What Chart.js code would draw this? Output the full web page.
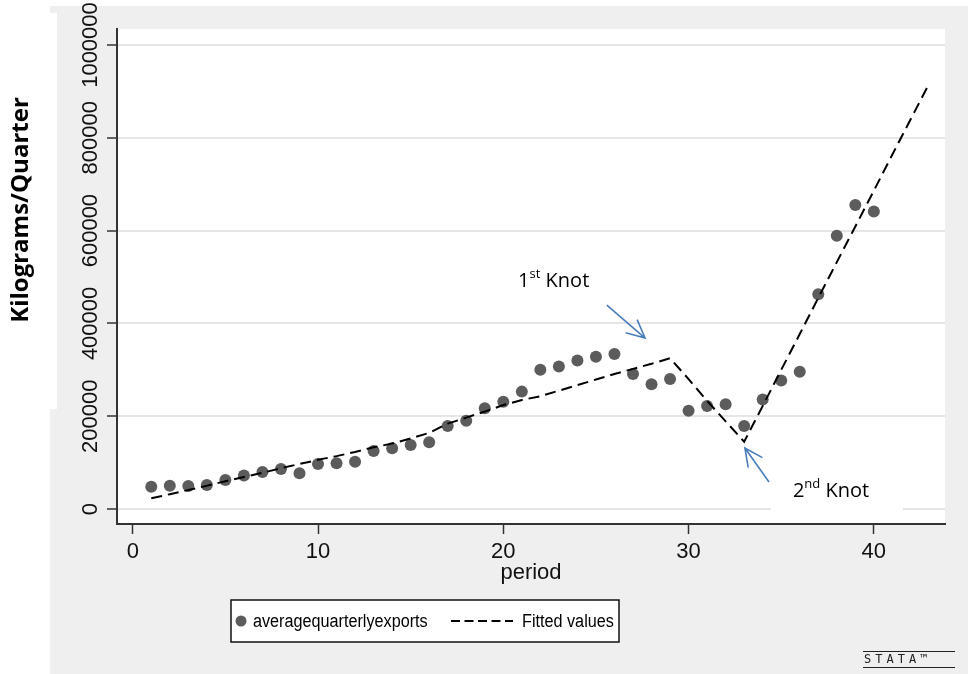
<!DOCTYPE html>
<html>
<head>
<meta charset="utf-8">
<script src="https://cdn.jsdelivr.net/npm/chart.js@4.4.1/dist/chart.umd.min.js"></script>
<style>
  html, body { margin: 0; padding: 0; background: #ffffff; }
  canvas { display: block; }
</style>
</head>
<body>
<canvas id="splineChart" width="968" height="674"></canvas>
<script>
// observed quarterly exports (kg)
const periods = [1, 2, 3, 4, 5, 6, 7, 8, 9, 10, 11, 12, 13, 14, 15, 16, 17, 18, 19, 20,
  21, 22, 23, 24, 25, 26, 27, 28, 29, 30, 31, 32, 33, 34, 35, 36, 37, 38, 39, 40];
const exportsKg = [48000, 50000, 49500, 52000, 62500, 72000, 80000, 86000, 77000, 97000,
  98500, 102000, 125000, 131000, 138000, 144000, 179000, 190000, 217000, 231000,
  253000, 300000, 307000, 320000, 328000, 334000, 291000, 269000, 280000, 212000,
  222000, 226000, 179000, 236000, 277000, 296000, 463000, 589000, 655000, 641000];

// fitted values of the spline regression (extends to period 43)
const fitPeriods = [1, 2, 3, 4, 5, 6, 7, 8, 9, 10, 11, 12, 13, 14, 15, 16, 17, 18, 19, 20,
  21, 22, 23, 24, 25, 26, 27, 28, 29, 30, 31, 32, 33, 34, 35, 36, 37, 38, 39, 40, 41, 42, 43];
const fittedKg = [23000, 32000, 41000, 50000, 60000, 69000, 78000, 88000, 97000, 106000,
  114000, 123000, 133000, 141000, 152000, 164000, 184000, 197000, 210000, 224000,
  235000, 243000, 255000, 267000, 279000, 291000, 302000, 313000, 325000, 280000,
  233000, 189000, 145000, 222000, 300000, 377000, 455000, 532000, 609000, 686000,
  764000, 841000, 918000];

const xTicks = [0, 10, 20, 30, 40];
const yTicks = [0, 200000, 400000, 600000, 800000, 1000000];

Chart.defaults.font.family = "'Liberation Sans', Arial, sans-serif";

// stata style background, legend box and the pasted notes
const decorations = {
  id: "decorations",
  beforeDraw(chart) {
    const { ctx, chartArea } = chart;
    ctx.save();
    ctx.fillStyle = "#ffffff";
    ctx.fillRect(0, 0, chart.width, chart.height);
    ctx.fillStyle = "#efefef";
    ctx.fillRect(50, 6, chart.width - 50, chart.height - 6);
    ctx.fillStyle = "#ffffff";
    ctx.fillRect(0, 13, 57, 396);
    ctx.fillRect(chartArea.left, chartArea.top, chartArea.right - chartArea.left, chartArea.bottom - chartArea.top);
    ctx.restore();
  },
  afterDraw(chart) {
    const { ctx, scales } = chart;
    const px = (v) => scales.x.getPixelForValue(v);
    const py = (v) => scales.y.getPixelForValue(v);
    ctx.save();

    // white label box behind "2nd Knot"
    ctx.fillStyle = "#ffffff";
    ctx.fillRect(px(34.45), py(84000), px(41.57) - px(34.45), py(-10800) - py(84000));

    // knot labels
    const knotLabel = (num, sup, x, y) => {
      ctx.fillStyle = "#000000";
      ctx.textBaseline = "alphabetic";
      ctx.textAlign = "left";
      ctx.font = "20px 'Open Sans'";
      ctx.fillText(num, x, y);
      let cx = x + ctx.measureText(num).width;
      ctx.font = "13px 'Open Sans'";
      ctx.fillText(sup, cx, y - 9);
      cx += ctx.measureText(sup).width;
      ctx.font = "20px 'Open Sans'";
      ctx.fillText(" Knot", cx, y);
    };
    knotLabel("1", "st", px(20.8), py(478400));
    knotLabel("2", "nd", px(35.63), py(25900));

    // blue arrows
    const arrow = (x0, y0, x1, y1) => {
      const a = Math.atan2(y1 - y0, x1 - x0);
      const len = 20, spread = 0.45;
      ctx.strokeStyle = "#4a7ebb";
      ctx.lineWidth = 1.6;
      ctx.beginPath();
      ctx.moveTo(x0, y0);
      ctx.lineTo(x1, y1);
      ctx.moveTo(x1 - len * Math.cos(a - spread), y1 - len * Math.sin(a - spread));
      ctx.lineTo(x1, y1);
      ctx.lineTo(x1 - len * Math.cos(a + spread), y1 - len * Math.sin(a + spread));
      ctx.stroke();
    };
    arrow(px(25.59), py(439600), px(27.65), py(368500));
    arrow(px(34.34), py(58200), px(33.04), py(131500));

    // y axis title
    ctx.save();
    ctx.translate(21, 210);
    ctx.rotate(-Math.PI / 2);
    ctx.fillStyle = "#000000";
    ctx.font = "bold 24px 'Open Sans'";
    ctx.textAlign = "center";
    ctx.textBaseline = "middle";
    ctx.fillText("Kilograms/Quarter", 0, 0);
    ctx.restore();

    // legend
    const dsPts = chart.data.datasets[0];
    const dsFit = chart.data.datasets[1];
    const lx = 231, ly = 600, lw = 388, lh = 42, mid = ly + lh / 2;
    ctx.fillStyle = "#ffffff";
    ctx.fillRect(lx, ly, lw, lh);
    ctx.strokeStyle = "#111111";
    ctx.lineWidth = 1.5;
    ctx.strokeRect(lx, ly, lw, lh);
    ctx.fillStyle = dsPts.backgroundColor;
    ctx.beginPath();
    ctx.arc(241, mid, 5.5, 0, Math.PI * 2);
    ctx.fill();
    ctx.strokeStyle = dsFit.borderColor;
    ctx.lineWidth = 2;
    ctx.setLineDash([9, 4.5]);
    ctx.beginPath();
    ctx.moveTo(451, mid);
    ctx.lineTo(513, mid);
    ctx.stroke();
    ctx.setLineDash([]);
    const legendText = (text, x) => {
      ctx.save();
      ctx.translate(x, mid + 1);
      ctx.scale(0.9, 1);
      ctx.fillStyle = "#000000";
      ctx.font = "18px 'Liberation Sans'";
      ctx.textAlign = "left";
      ctx.textBaseline = "middle";
      ctx.fillText(text, 0, 0);
      ctx.restore();
    };
    legendText(dsPts.label, 253);
    legendText(dsFit.label, 522);

    // stata mark
    ctx.strokeStyle = "#222222";
    ctx.lineWidth = 1;
    ctx.beginPath();
    ctx.moveTo(863, 651.5);
    ctx.lineTo(955, 651.5);
    ctx.moveTo(863, 667.5);
    ctx.lineTo(955, 667.5);
    ctx.stroke();
    ctx.fillStyle = "#222222";
    ctx.font = "12px 'DejaVu Sans Mono'";
    ctx.textBaseline = "middle";
    ctx.textAlign = "left";
    ctx.letterSpacing = "4px";
    ctx.fillText("STATA™", 864, 660);
    ctx.restore();
  },
};

const ctx = document.getElementById("splineChart").getContext("2d");
new Chart(ctx, {
  type: "scatter",
  data: {
    datasets: [
      {
        label: "averagequarterlyexports",
        data: periods.map((p, i) => ({ x: p, y: exportsKg[i] })),
        backgroundColor: "#5c5c5c",
        borderWidth: 0,
        pointRadius: 6,
        pointHoverRadius: 6,
        order: 1,
      },
      {
        label: "Fitted values",
        type: "line",
        data: fitPeriods.map((p, i) => ({ x: p, y: fittedKg[i] })),
        borderColor: "#000000",
        borderWidth: 2,
        borderDash: [11, 6],
        pointRadius: 0,
        fill: false,
        tension: 0,
        order: 0,
      },
    ],
  },
  options: {
    responsive: false,
    animation: false,
    devicePixelRatio: 1,
    layout: { padding: { top: 29, left: 57, right: 23, bottom: 0 } },
    plugins: {
      legend: { display: false },
      tooltip: { enabled: false },
    },
    scales: {
      x: {
        type: "linear",
        min: -0.85,
        max: 43.84,
        afterBuildTicks: (s) => { s.ticks = xTicks.map((v) => ({ value: v })); },
        afterFit: (s) => { s.height = 150; },
        grid: { drawOnChartArea: false, tickLength: 10, tickColor: "#333333", tickWidth: 1.5 },
        border: { color: "#333333", width: 2 },
        ticks: {
          autoSkip: false,
          maxRotation: 0,
          padding: 5,
          color: "#111111",
          font: { size: 22 },
          callback: (v) => String(v),
        },
        title: {
          display: true,
          text: "period",
          color: "#111111",
          font: { size: 22 },
          padding: { top: 0, bottom: 88 },
        },
      },
      y: {
        min: -32300,
        max: 1034500,
        afterBuildTicks: (s) => { s.ticks = yTicks.map((v) => ({ value: v })); },
        afterFit: (s) => { s.width = 60; },
        grid: { color: "#e6e6e6", lineWidth: 2, tickLength: 10, tickColor: "#333333", tickWidth: 1.5 },
        border: { color: "#333333", width: 2 },
        ticks: {
          autoSkip: false,
          minRotation: 90,
          maxRotation: 90,
          crossAlign: "center",
          padding: -27,
          color: "#111111",
          font: { size: 22 },
          callback: (v) => String(v),
        },
      },
    },
  },
  plugins: [decorations],
});
</script>
</body>
</html>
